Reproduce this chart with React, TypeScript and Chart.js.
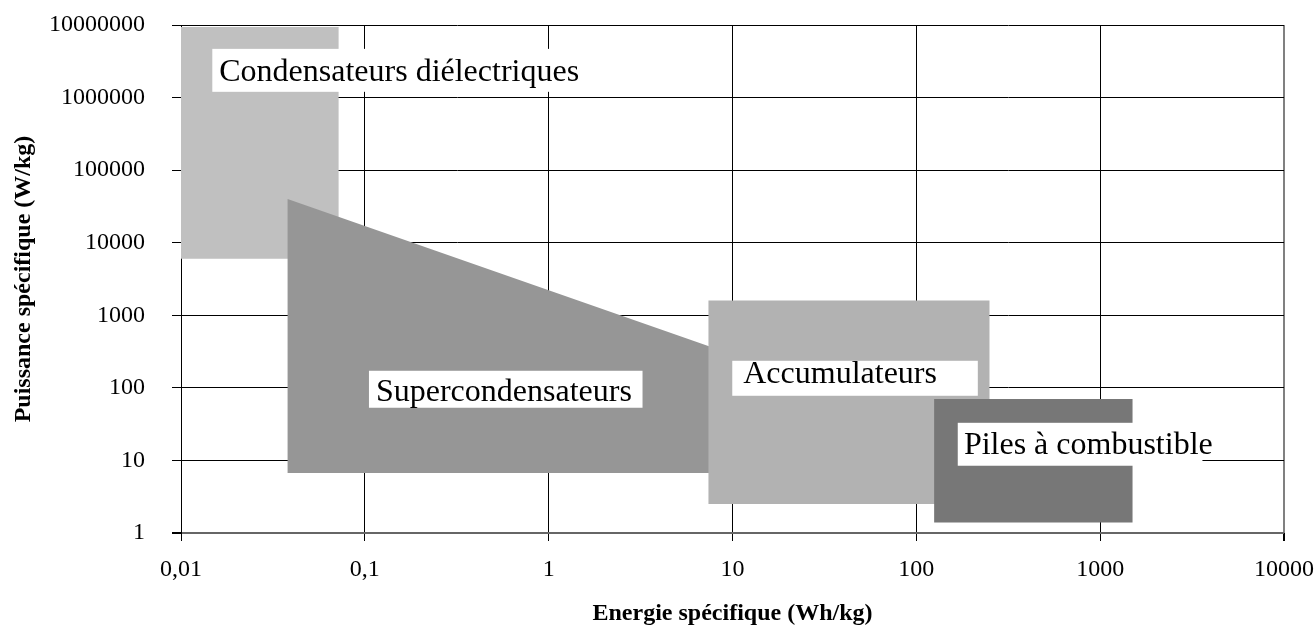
import React, { useEffect, useRef } from 'react';
import { Chart, registerables } from 'chart.js';

Chart.register(...registerables);

// Axis ticks
const xTickValues = [0.01, 0.1, 1, 10, 100, 1000, 10000];
const xTickLabels = ['0,01', '0,1', '1', '10', '100', '1000', '10000'];
const yTickValues = [1, 10, 100, 1000, 10000, 100000, 1000000, 10000000];
const yTickLabels = ['1', '10', '100', '1000', '10000', '100000', '1000000', '10000000'];

// Zones (Ragone diagram) — closed polygons in data space
const seriesNames = ['Condensateurs diélectriques', 'Supercondensateurs', 'Accumulateurs', 'Piles à combustible'];
const condensateursX = [0.01, 0.01, 0.072, 0.072, 0.01];
const condensateursY = [6000, 9400000, 9400000, 6000, 6000];
const supercondensateursX = [0.038, 0.038, 8, 8, 0.038];
const supercondensateursY = [6.7, 40000, 350, 6.7, 6.7];
const accumulateursX = [7.4, 7.4, 250, 250, 7.4];
const accumulateursY = [2.5, 1600, 1600, 2.5, 2.5];
const pilesX = [125, 125, 1500, 1500, 125];
const pilesY = [1.4, 70, 70, 1.4, 1.4];
const zoneColors = ['#c0c0c0', '#969696', '#b2b2b2', '#777777'];

// Zone labels (white boxes), in data space
const labelBoxX = [[0.0148, 1.55], [0.1053, 3.24], [9.97, 216], [168, 3600]];
const labelBoxY = [[1200000, 4690000], [53.2, 172], [77.8, 236], [8.45, 33]];
const labelTextX = [0.01614, 0.1149, 11.44, 181.4];
const labelTextY = [1700000, 65.0, 117.5, 12.37];

const toPoints = (xs: number[], ys: number[]) => xs.map((x, i) => ({ x, y: ys[i] }));

const labelPlugin = {
  id: 'zoneLabels',
  afterDatasetsDraw(chart: any) {
    const { ctx } = chart;
    const xs = chart.scales.x;
    const ys = chart.scales.y;
    ctx.save();
    ctx.font = '32px "Liberation Serif"';
    ctx.textAlign = 'left';
    ctx.textBaseline = 'alphabetic';
    seriesNames.forEach((name, i) => {
      const x0 = xs.getPixelForValue(labelBoxX[i][0]);
      const x1 = xs.getPixelForValue(labelBoxX[i][1]);
      const yb = ys.getPixelForValue(labelBoxY[i][0]);
      const yt = ys.getPixelForValue(labelBoxY[i][1]);
      ctx.fillStyle = '#ffffff';
      ctx.fillRect(x0, yt, x1 - x0, yb - yt);
      ctx.fillStyle = '#000000';
      ctx.fillText(name, xs.getPixelForValue(labelTextX[i]), ys.getPixelForValue(labelTextY[i]));
    });
    ctx.restore();
  },
};

export default function App() {
  const canvasRef = useRef<HTMLCanvasElement | null>(null);

  useEffect(() => {
    document.body.style.margin = '0';
    const canvas = canvasRef.current;
    if (!canvas) return;

    const zones = [
      toPoints(condensateursX, condensateursY),
      toPoints(supercondensateursX, supercondensateursY),
      toPoints(accumulateursX, accumulateursY),
      toPoints(pilesX, pilesY),
    ];

    const datasets = zones.map((pts, i) => ({
      label: seriesNames[i],
      data: pts,
      backgroundColor: zoneColors[i],
      borderColor: zoneColors[i],
      borderWidth: 0,
      pointRadius: 0,
      pointHoverRadius: 0,
      tension: 0,
      fill: 'shape',
      order: zones.length - i,
    }));

    const tickFont = { family: '"Liberation Serif"', size: 24 };
    const titleFont = { family: '"Liberation Serif"', size: 24, weight: 'bold' as const, lineHeight: 1 };

    const chart = new Chart(canvas, {
      type: 'line',
      data: { datasets: datasets as any },
      plugins: [labelPlugin],
      options: {
        animation: false,
        responsive: false,
        devicePixelRatio: 1,
        layout: { padding: { top: 25, right: 27, bottom: 0, left: 0 } },
        plugins: {
          legend: { display: false },
          tooltip: { enabled: false },
        },
        scales: {
          x: {
            type: 'logarithmic',
            position: 'bottom',
            min: 0.01,
            max: 10000,
            afterBuildTicks: (s: any) => {
              s.ticks = xTickValues.map((v) => ({ value: v }));
            },
            afterFit: (s: any) => {
              s.height = 93;
            },
            ticks: {
              autoSkip: false,
              maxRotation: 0,
              color: '#000',
              font: tickFont,
              padding: 0,
              callback: (_v: any, i: number) => xTickLabels[i],
            },
            grid: {
              color: (c: any) => (c.tick && c.tick.value === 10000 ? '#808080' : '#000'),
              lineWidth: (c: any) => (c.tick && c.tick.value === 10000 ? 2 : 1),
              tickColor: '#000',
              tickLength: 22,
              tickBorderDash: [8, 400],
              drawOnChartArea: true,
            },
            border: { display: false },
            title: {
              display: true,
              text: 'Energie spécifique (Wh/kg)',
              color: '#000',
              font: titleFont,
              padding: { top: 0, bottom: 0 },
            },
          },
          y: {
            type: 'logarithmic',
            position: 'left',
            min: 1,
            max: 10000000,
            afterBuildTicks: (s: any) => {
              s.ticks = yTickValues.map((v) => ({ value: v }));
            },
            afterFit: (s: any) => {
              s.width = 181;
            },
            ticks: {
              autoSkip: false,
              color: '#000',
              font: tickFont,
              padding: 0,
              callback: (_v: any, i: number) => yTickLabels[i],
            },
            grid: {
              color: (c: any) => (c.tick && c.tick.value === 1 ? '#666' : '#000'),
              lineWidth: (c: any) => (c.tick && c.tick.value === 1 ? 2 : 1),
              tickColor: '#000',
              tickLength: 36,
              tickBorderDash: [9, 27],
              tickBorderDashOffset: 9,
            },
            border: { display: true, color: '#000', width: 1 },
            title: {
              display: true,
              text: 'Puissance spécifique (W/kg)',
              color: '#000',
              font: titleFont,
              padding: { top: 12, bottom: 0 },
            },
          },
        },
      },
    } as any);

    return () => {
      chart.destroy();
    };
  }, []);

  return (
    <div style={{ width: 1314, height: 626, position: 'relative' }}>
      <canvas ref={canvasRef} width={1314} height={626} style={{ display: 'block' }} />
    </div>
  );
}
